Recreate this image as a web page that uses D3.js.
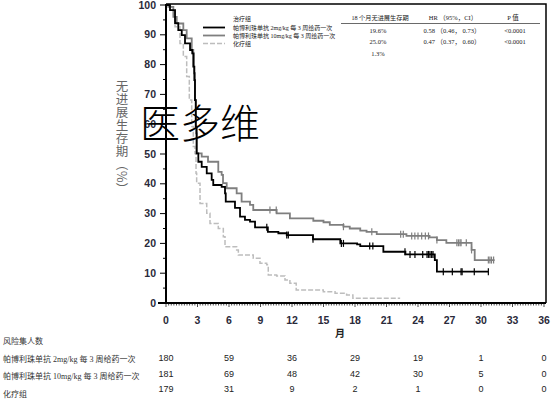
<!DOCTYPE html>
<html><head><meta charset="utf-8">
<script src="https://cdn.jsdelivr.net/npm/d3@7"></script>
<style>
html,body{margin:0;padding:0;background:#fff;}
svg{display:block;}
</style></head>
<body>
<svg id="chart" width="554" height="402"></svg>
<script>
// ---------- data ----------
const xTicks = [0,3,6,9,12,15,18,21,24,27,30,33,36];
const yTicks = [0,10,20,30,40,50,60,70,80,90,100];
const riskMonths = [0,6,12,18,24,30,36];
const risk2mg  = [180,59,36,29,19,1,0];
const risk10mg = [181,69,48,42,30,5,0];
const riskChemo = [179,31,9,2,1,0,0];

const seriesNames = ["帕博利珠单抗   2mg/kg 每 3 周给药一次","帕博利珠单抗 10mg/kg 每 3 周给药一次","化疗组"];
const pfs18 = ["19.6%","25.0%","1.3%"];
const hrText = ["0.58 （0.46， 0.73）","0.47 （0.37， 0.60）",""];
const pText = ["<0.0001","<0.0001",""];

// step points [month, percent]
const km2mg = [[0,100],[0.38,98.3],[0.86,93.9],[1.17,91.6],[1.5,89.9],[1.81,87.1],[2.29,84.9],[2.5,83.8],[2.6,79.3],[2.7,74.8],[2.76,68.1],[2.83,59.2],[2.92,50.2],[3.08,47.4],[3.4,45.7],[3.88,43.5],[4.35,41.3],[4.5,39.6],[5.3,39],[5.62,36.8],[5.69,34],[6.57,31.9],[7.05,29],[7.52,27.9],[8,27.3],[8.48,25.4],[9.7,23.9],[10.7,23.4],[11.5,22.8],[14.0,21.4],[16.6,20.0],[18.2,19.7],[18.5,19.1],[20.7,17.2],[22.8,16.3],[25.6,14.4],[25.8,10.5],[30.7,10.5]];
const km10mg = [[0,100],[0.22,99.4],[0.7,96],[1.02,93.8],[1.65,91.6],[1.97,88.8],[2.45,84.9],[2.6,83.8],[2.67,77.1],[2.76,68.1],[2.86,56.9],[2.92,50.2],[3.4,49.1],[4.0,47.4],[4.98,44],[5.3,43],[5.43,40.2],[5.78,38.5],[6.73,36.8],[7.2,34],[8.0,32.9],[8.31,31.2],[10.54,30.1],[11.8,28.4],[14.03,27.6],[15.0,27.1],[15.6,26.2],[16.9,25.6],[17.5,25.0],[18.5,24.3],[19.1,23.9],[20.07,23.1],[22.9,22.5],[25.1,22.0],[25.8,21.1],[26.7,20.2],[29.1,17.8],[29.4,14.4],[31.3,14.4]];
const kmChemo = [[0,100],[0.38,98.3],[0.86,92.7],[1.33,87.1],[1.65,82.7],[1.97,76],[2.22,68.1],[2.45,59.2],[2.6,52.5],[2.76,50.2],[2.86,43.5],[2.92,40.2],[3.24,33.4],[3.88,30.1],[4.19,26.7],[4.98,25],[5.46,22.2],[5.62,18.9],[6.73,17.8],[6.89,16.1],[8.31,15],[8.95,13.3],[9.59,12.8],[9.74,9.4],[10.54,9.1],[11.33,7.7],[11.8,6.6],[12.4,4.4],[14.98,3.8],[16.1,3.3],[17.2,2.7],[17.8,1.6],[22.3,1.6]];

const cens2mg = [9.6,11.5,11.65,14.0,16.7,16.9,19.4,19.7,22.76,23.24,23.71,24.45,24.86,25.0,25.14,25.3,25.43,26.41,27.27,28.1,28.2,29.36,30.7];
const cens10mg = [9.9,10.5,16.9,19.6,22.35,22.6,23.4,23.7,24.0,24.35,24.7,25.0,25.8,27.7,27.85,28.0,28.1,28.6,29.1,30.7,30.85,31.0,31.2];

// ---------- drawing ----------
const svg = d3.select("#chart");
const x = d3.scaleLinear().domain([0,36]).range([166,544]);
const y = d3.scaleLinear().domain([0,100]).range([303,5]);

// frame (top & right)
svg.append("path").attr("d",`M${x(0)},${y(100)-1}H${x(36)+2}V${y(0)}`)
  .attr("fill","none").attr("stroke","#000").attr("stroke-width",1.5);

// y axis
const yAxis = svg.append("g").attr("transform",`translate(${x(0)},0)`);
yAxis.append("line").attr("y1",y(0)).attr("y2",y(100)-1).attr("stroke","#000").attr("stroke-width",2);
d3.range(0,101,5).forEach(v=>{
  const major = v%10===0;
  yAxis.append("line").attr("x1",major?-6:-3).attr("x2",0).attr("y1",y(v)).attr("y2",y(v))
    .attr("stroke","#000").attr("stroke-width",1);
});
yAxis.selectAll("text.yl").data(yTicks).join("text")
  .attr("x",-10).attr("y",d=>y(d)).attr("dy","0.35em").attr("text-anchor","end")
  .attr("font-family","Liberation Sans, Arial, sans-serif").attr("font-size",10.5).attr("font-weight","bold")
  .attr("fill","#2a2a3a").text(d=>d);

// x axis
const xAxis = svg.append("g").attr("transform",`translate(0,${y(0)})`);
xAxis.append("line").attr("x1",x(0)-8).attr("x2",x(36)+2).attr("stroke","#000").attr("stroke-width",2);
d3.range(0,36.01,0.25).forEach(m=>{
  const major = Math.abs(m/3-Math.round(m/3))<1e-6;
  xAxis.append("line").attr("x1",x(m)).attr("x2",x(m)).attr("y1",0).attr("y2",major?4:2.5)
    .attr("stroke","#000").attr("stroke-width",0.7);
});
xAxis.selectAll("text.xl").data(xTicks).join("text")
  .attr("x",d=>x(d)).attr("y",17).attr("dy","0.35em").attr("text-anchor","middle")
  .attr("font-family","Liberation Sans, Arial, sans-serif").attr("font-size",10.5).attr("font-weight","bold")
  .attr("fill","#2a2a3a").text(d=>d);
svg.append("text").attr("x",340).attr("y",333).attr("dy","0.35em").attr("text-anchor","middle")
  .attr("font-family","Noto Sans CJK SC").attr("font-size",10).attr("font-weight","bold").attr("fill","#222").text("月");

// y label (vertical)
svg.append("text").attr("x",122).attr("y",80)
  .attr("style","writing-mode: vertical-rl; text-orientation: mixed;")
  .attr("font-family","Noto Sans CJK SC").attr("font-size",12.5).attr("fill","#666")
  .attr("letter-spacing",0.5)
  .text("无进展生存期（%）");

// curves
const line = d3.line().x(d=>x(d[0])).y(d=>y(d[1])).curve(d3.curveStepAfter);
svg.append("path").datum(kmChemo).attr("d",line).attr("fill","none")
  .attr("stroke","#bdbdbd").attr("stroke-width",1.5).attr("stroke-dasharray","5,2");
svg.append("path").datum(km10mg).attr("d",line).attr("fill","none")
  .attr("stroke","#7f7f7f").attr("stroke-width",1.8);
svg.append("path").datum(km2mg).attr("d",line).attr("fill","none")
  .attr("stroke","#000").attr("stroke-width",1.8);

function stepVal(data,m){
  let v = data[0][1];
  for(const p of data){ if(p[0]<=m) v=p[1]; else break; }
  return v;
}
function drawCens(data,cens,color){
  svg.append("g").selectAll("line").data(cens).join("line")
    .attr("x1",d=>x(d)).attr("x2",d=>x(d))
    .attr("y1",d=>y(stepVal(data,d))-3.5).attr("y2",d=>y(stepVal(data,d))+3.5)
    .attr("stroke",color).attr("stroke-width",1.2);
}
drawCens(km10mg,cens10mg,"#7f7f7f");
drawCens(km2mg,cens2mg,"#000");

// legend
const lg = svg.append("g").attr("font-family","Liberation Serif, Noto Sans CJK SC").attr("font-size",6).attr("fill","#222");
lg.append("text").attr("x",233).attr("y",19).attr("dy","0.35em").text("治疗组");
const legY = [27.5,35.5,43.5];
const legStyles = [{c:"#000",w:1.8,d:null},{c:"#7f7f7f",w:1.8,d:null},{c:"#bdbdbd",w:1.5,d:"5,2"}];
seriesNames.forEach((s,i)=>{
  const l = lg.append("line").attr("x1",203).attr("x2",225).attr("y1",legY[i]).attr("y2",legY[i])
    .attr("stroke",legStyles[i].c).attr("stroke-width",legStyles[i].w);
  if(legStyles[i].d) l.attr("stroke-dasharray",legStyles[i].d);
  lg.append("text").attr("x",233).attr("y",legY[i]).attr("dy","0.35em").text(s);
});
// table
const tg = svg.append("g").attr("font-family","Liberation Serif, Noto Sans CJK SC").attr("fill","#222").attr("text-anchor","middle");
tg.append("text").attr("x",380).attr("y",18).attr("dy","0.35em").attr("font-size",6.2).text("18 个月无进展生存期");
tg.append("text").attr("x",453).attr("y",18).attr("dy","0.35em").attr("font-size",6.5).text("HR （95%，CI）");
tg.append("text").attr("x",513).attr("y",18).attr("dy","0.35em").attr("font-size",6.5).text("P 值");
svg.append("line").attr("x1",341).attr("x2",540).attr("y1",23.5).attr("y2",23.5).attr("stroke","#444").attr("stroke-width",0.8);
const rowY = [31,42,54];
pfs18.forEach((v,i)=>{
  tg.append("text").attr("x",378).attr("y",rowY[i]).attr("dy","0.35em").attr("font-size",6.5).text(v);
  tg.append("text").attr("x",452).attr("y",rowY[i]).attr("dy","0.35em").attr("font-size",6.5).text(hrText[i]);
  tg.append("text").attr("x",515).attr("y",rowY[i]).attr("dy","0.35em").attr("font-size",6.5).text(pText[i]);
});

// watermark
svg.append("text").attr("x",140).attr("y",138)
  .attr("font-family","Noto Sans CJK SC").attr("font-weight",300).attr("font-size",40).attr("fill","#000")
  .text("医多维");

// risk table
const rg = svg.append("g");
const labStyle = s=>s.attr("font-family","Liberation Serif, Noto Sans CJK SC").attr("font-size",8).attr("fill","#333");
labStyle(rg.append("text").attr("x",3).attr("y",341).attr("dy","0.35em").text("风险集人数"));
labStyle(rg.append("text").attr("x",3).attr("y",359).attr("dy","0.35em").text(seriesNames[0]));
labStyle(rg.append("text").attr("x",3).attr("y",376).attr("dy","0.35em").text(seriesNames[1]));
labStyle(rg.append("text").attr("x",3).attr("y",394).attr("dy","0.35em").text(seriesNames[2]));
const riskRows = [{d:risk2mg,y:358},{d:risk10mg,y:374},{d:riskChemo,y:389}];
riskRows.forEach(r=>{
  rg.append("g").selectAll("text").data(r.d).join("text")
    .attr("x",(d,i)=>x(riskMonths[i])).attr("y",r.y).attr("dy","0.35em").attr("text-anchor","middle")
    .attr("font-family","Liberation Sans, Arial, sans-serif").attr("font-size",9).attr("fill","#222")
    .text(d=>d);
});
</script>
</body></html>
